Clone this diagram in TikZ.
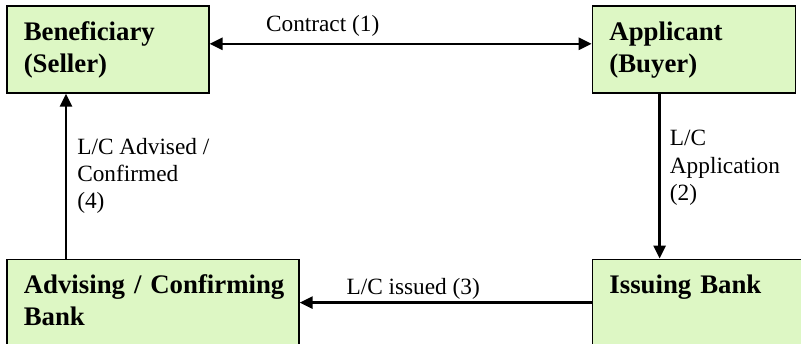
\documentclass[tikz,border=0pt]{standalone}
\usepackage{fontspec}
\setmainfont{Liberation Serif}
\usetikzlibrary{positioning,arrows.meta}
\definecolor{lcgreen}{RGB}{221,247,196}
\tikzstyle{lcbox}=[rectangle, draw=black, fill=lcgreen, line width=0.8pt, anchor=north west
, inner xsep=8.5pt, inner ysep=0pt, text height=17.25pt, align=left, font=\bfseries\fontsize{13.4}{16}\selectfont]
\tikzstyle{lclabel}=[inner sep=0pt, align=left, font=\fontsize{11.65}{13.6}\selectfont]
\tikzstyle{lcline}=[line width=1.3pt, >={Triangle[length=6.5pt,width=6pt]}]

\begin{document}
\begin{tikzpicture}[node distance=0mm]
    \useasboundingbox (0,0) rectangle (400.5pt,-171.5pt);
    \clip (0,0) rectangle (400.5pt,-171.5pt);

    \node (ben) [lcbox, text width=84pt, text depth=26.25pt] at (3pt,-2.5pt) {Beneficiary\\(Seller)};
    \node (app) [lcbox, text width=84.5pt, text depth=26.25pt, right=191pt of ben] {Applicant\\(Buyer)};

% banks
    \node (adv) [lcbox, text width=129pt, text depth=40pt, below right=82.5pt and 0pt of ben.south west] {\mbox{Advising / Confirming}\\Bank};
    \node (iss) [lcbox, text width=103pt, text depth=40pt, below right=82.5pt and 0pt of app.south west] {Issuing Bank};

% lines
   \draw[lcline, <->] ([yshift=2.75pt]ben.east) -- ([yshift=2.75pt]app.west)
        node (con) [lclabel, pos=0.296, above=2.8pt] {Contract (1)};
   \draw[lcline, ->] ([xshift=34pt]app.south west) -- ([xshift=34pt]iss.north west)
        node (apl) [lclabel, pos=0.45, right=4.5pt] {L/C\\Application\\(2)};
   \draw[lcline, ->] ([yshift=-22pt]iss.north west) -- ([yshift=-22pt]adv.north east)
        node (isd) [lclabel, pos=0.611, above=1pt] {L/C issued (3)};
   \draw[lcline, ->] ([xshift=30pt]adv.north west) -- ([xshift=30pt]ben.south west)
        node (cnf) [lclabel, pos=0.5, right=5pt] {L/C Advised /\\Confirmed\\(4)};
\end{tikzpicture}
\end{document}
